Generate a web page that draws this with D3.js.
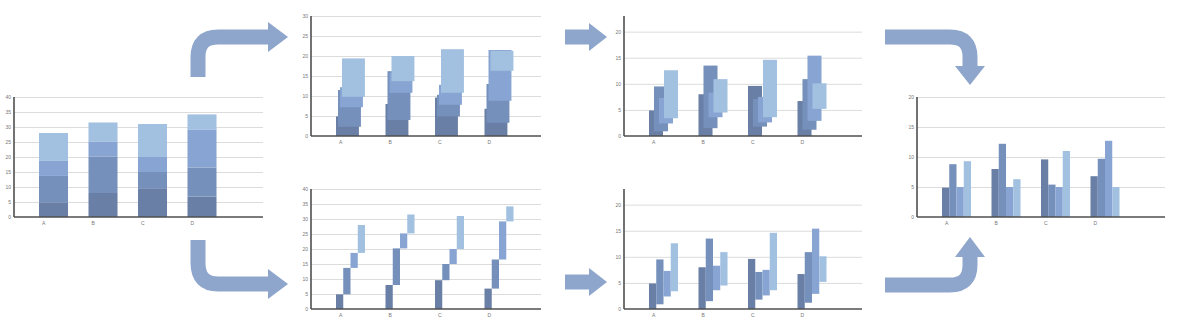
<!DOCTYPE html>
<meta charset="utf-8">
<style>
body{margin:0;background:#fff;}
text{font-family:"Liberation Sans",Arial,sans-serif;fill:#777;}
.grid line{stroke:#dcdcdc;stroke-width:1;}
.grid path{display:none;}
.ticks path{display:none;}
.ticks text{font-size:5px;}
.catLabel{font-size:5px;}
.axisLine{stroke:#4f4f4f;stroke-width:1.6;}
.arrow{fill:none;stroke:#8fa6cc;stroke-width:15;}
.arrowHead{fill:#8fa6cc;}
</style>
<body>
<script src="https://d3js.org/d3.v7.min.js"></script>
<script>
// categories and series
var categories = ["A","B","C","D"];
var series = ["s1","s2","s3","s4"];

// final values, one array per series (A,B,C,D)
var s1Values = [4.9, 8.0, 9.6, 6.8];
var s2Values = [8.8, 12.2, 5.4, 9.7];
var s3Values = [5.0, 5.0, 5.0, 12.7];
var s4Values = [9.3, 6.3, 11.0, 5.0];

// transition frame, top middle chart: bottom and top of each bar
var slideLow  = [[0,0,0,0],[2.3,4.0,4.9,3.3],[7.2,10.8,7.8,8.8],[9.8,13.7,10.8,16.3]];
var slideHigh = [[4.9,8.0,9.6,6.8],[11.5,16.2,10.3,13.0],[12.2,15.8,12.8,21.5],[19.4,20.0,21.7,21.3]];

// transition frame, right middle charts
var dropLow  = [[0,0,0,0],[0.9,1.5,1.8,1.2],[2.4,3.6,2.6,2.9],[3.4,4.5,3.6,5.2]];
var dropHigh = [[4.9,8.0,9.6,6.7],[9.5,13.5,7.1,10.9],[7.3,8.3,7.5,15.4],[12.6,10.9,14.6,10.1]];

var tickStep = 5;
var colors = ["#6a7fa5","#7690bc","#87a4d2","#a2c0e0"];

var allValues = [s1Values, s2Values, s3Values, s4Values];

// stacked frame built from the values with d3.stack
var rows = categories.map(function(c, j){
  var r = {cat:c};
  series.forEach(function(s, i){ r[s] = allValues[i][j]; });
  return r;
});
var stacked = d3.stack().keys(series)(rows);
var stackLow = stacked.map(function(l){ return l.map(function(d){ return d[0]; }); });
var stackHigh = stacked.map(function(l){ return l.map(function(d){ return d[1]; }); });
var groupLow = allValues.map(function(v){ return v.map(function(){ return 0; }); });
var groupHigh = allValues;

var svg = d3.select("body").append("svg").attr("width",1178).attr("height",326);

// layout of the six charts
var panels = [
  {x:14,  top:97,  max:40, end:263,  low:stackLow, high:stackHigh, mode:"full"},
  {x:311, top:16,  max:30, end:541,  low:slideLow, high:slideHigh, mode:"slide1"},
  {x:311, top:189, max:40, end:541,  low:stackLow, high:stackHigh, mode:"split"},
  {x:624, top:16,  max:23, end:862,  low:dropLow,  high:dropHigh,  mode:"slide2"},
  {x:624, top:189, max:23, end:862,  low:dropLow,  high:dropHigh,  mode:"split"},
  {x:917, top:97,  max:20, end:1165, low:groupLow, high:groupHigh, mode:"split"}
];

var modes = {
  full:   {off:0,     w:1},
  slide1: {off:0.069, w:0.79},
  slide2: {off:0.172, w:0.483},
  split:  {off:0.25,  w:0.25}
};

panels.forEach(function(p){
  var h = 120;
  var y = d3.scaleLinear().domain([0,p.max]).range([p.top+h, p.top]);
  var x = d3.scaleBand().domain(categories)
     .range([p.x+25, p.x+25+4*49.5]).paddingInner(0.414).paddingOuter(0.207).align(0);
  var bw = x.bandwidth();
  var ticks = d3.range(0, p.max+0.01, tickStep);
  var g = svg.append("g");

  g.append("g").attr("class","grid").attr("transform","translate("+p.x+",0)")
    .call(d3.axisLeft(y).tickValues(ticks.slice(1)).tickSize(-(p.end-p.x)).tickFormat(""));

  g.append("g").attr("class","ticks").attr("transform","translate("+(p.x-1)+",0)")
    .call(d3.axisLeft(y).tickValues(ticks).tickSize(0).tickPadding(2));

  var m = modes[p.mode];
  series.forEach(function(s, i){
    g.append("g").selectAll("rect").data(categories).join("rect")
      .attr("x", function(c){ return x(c) + bw*m.off*i; })
      .attr("width", bw*m.w)
      .attr("y", function(c, j){ return y(p.high[i][j]); })
      .attr("height", function(c, j){ return y(p.low[i][j]) - y(p.high[i][j]); })
      .attr("fill", colors[i]);
  });

  g.append("line").attr("class","axisLine")
    .attr("x1",p.x).attr("x2",p.end).attr("y1",y(0)).attr("y2",y(0));
  g.append("line").attr("class","axisLine")
    .attr("x1",p.x).attr("x2",p.x).attr("y1",y(0)).attr("y2",p.top);

  g.selectAll(".catLabel").data(categories).join("text").attr("class","catLabel")
    .attr("x", function(c){ return x(c)+3; })
    .attr("y", y(0)+8)
    .text(function(c){ return c; });
});

// arrows between the charts
var arrows = [
  {d:"M198,77 V57 Q198,37 218,37 H270", head:[[268,22],[288,37],[268,52]]},
  {d:"M198,240 V263 Q198,284 218,284 H270", head:[[268,269],[288,284],[268,299]]},
  {d:"M565,37 H591", head:[[589,23],[607,37],[589,51]]},
  {d:"M565,282 H591", head:[[589,268],[607,282],[589,296]]},
  {d:"M885,37 H950 Q970,37 970,57 V67", head:[[955,66],[970,85],[985,66]]},
  {d:"M885,285 H950 Q970,285 970,265 V256", head:[[955,257],[970,237],[985,257]]}
];
arrows.forEach(function(a){
  svg.append("path").attr("class","arrow").attr("d",a.d);
  svg.append("path").attr("class","arrowHead").attr("d", d3.line()(a.head)+"Z");
});
</script>
</body>
